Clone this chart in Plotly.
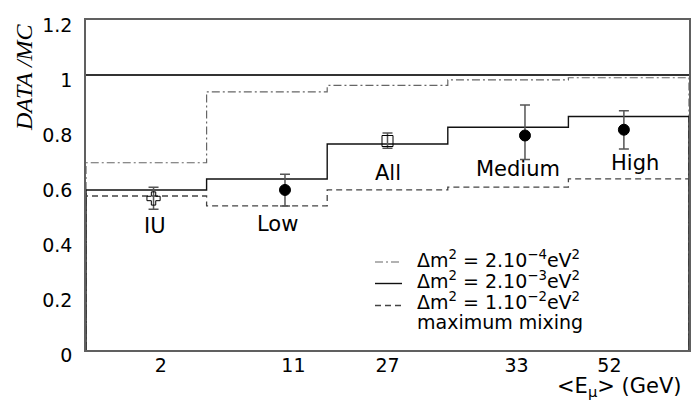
import plotly.graph_objects as go

# ---- data ----
bin_edges = [0, 1, 2, 3, 4, 5]
hist_dm2_2e4 = [0.681, 0.939, 0.962, 0.982, 0.990]   # dash-dot
hist_dm2_2e3 = [0.582, 0.622, 0.749, 0.810, 0.849]   # solid
hist_dm2_1e2 = [0.560, 0.524, 0.582, 0.592, 0.622]   # dashed
no_osc_level = 1.0

sample_names = ["IU", "Low", "All", "Medium", "High"]
sample_x = [0.56, 1.65, 2.50, 3.64, 4.46]
sample_y = [0.551, 0.582, 0.760, 0.780, 0.801]
sample_err_plus = [0.041, 0.057, 0.029, 0.111, 0.069]
sample_err_minus = [0.039, 0.058, 0.026, 0.087, 0.070]
sample_symbols = ["cross-open", "circle", "square-open", "circle", "circle"]

label_x = [0.57, 1.59, 2.50, 3.58, 4.55]
label_y = [0.450, 0.460, 0.645, 0.660, 0.679]

energy_tick_pos = [0.62, 1.72, 2.50, 3.57, 4.34]
energy_tick_text = ["2", "11", "27", "33", "52"]

legend_names = [
    "Δm<sup>2</sup> = 2.10<sup>−4</sup>eV<sup>2</sup>",
    "Δm<sup>2</sup> = 2.10<sup>−3</sup>eV<sup>2</sup>",
    "Δm<sup>2</sup> = 1.10<sup>−2</sup>eV<sup>2</sup>",
    "maximum mixing",
]

FONT = "DejaVu Sans"

# plot-area geometry (pixels) used to place decorations in paper coords
W, H = 698, 405
ML, MR, MT, MB = 86, 9, 20, 55
PW, PH = W - ML - MR, H - MT - MB


def px_x(px):
    return (px - ML) / PW


def px_y(py):
    return (H - MB - py) / PH


def hist_outline(edges, vals):
    xs = [edges[0]] + list(edges[:-1]) + [edges[-1], edges[-1]]
    ys = [0] + list(vals) + [vals[-1], 0]
    return xs, ys


fig = go.Figure()

# no-oscillation reference
fig.add_trace(go.Scatter(x=[bin_edges[0], bin_edges[-1]], y=[no_osc_level, no_osc_level],
                         mode="lines", line=dict(color="#333333", width=2.2),
                         showlegend=False, hoverinfo="skip"))

line_styles = [
    dict(color="#666666", width=1.2, dash="8px,3px,2px,3px"),
    dict(color="#111111", width=1.4),
    dict(color="#444444", width=1.3, dash="6px,4px"),
]
for vals, ln, name in zip([hist_dm2_2e4, hist_dm2_2e3, hist_dm2_1e2], line_styles, legend_names[:3]):
    xs, ys = hist_outline(bin_edges, vals)
    fig.add_trace(go.Scatter(x=xs, y=ys, mode="lines", line_shape="hv", line=ln,
                             name=name, showlegend=False))

# data points
for i in range(len(sample_names)):
    fig.add_trace(go.Scatter(
        x=[sample_x[i]], y=[sample_y[i]], mode="markers",
        marker=dict(symbol=sample_symbols[i], size=11,
                    color="black", line=dict(color="black", width=1)),
        error_y=dict(type="data", symmetric=False, array=[sample_err_plus[i]],
                     arrayminus=[sample_err_minus[i]], color="#555555", thickness=1.5, width=5),
        showlegend=False, name=sample_names[i]))

for name, lx, ly in zip(sample_names, label_x, label_y):
    fig.add_annotation(x=lx, y=ly, text=name, showarrow=False, xanchor="center", yanchor="middle",
                       font=dict(family=FONT, size=21, color="black"))

# legend (drawn by hand to match the original layout)
legend_line_y = [262, 283.5, 305.5]
legend_text_y = [259, 280, 301, 322]
for ln, ly in zip(line_styles, legend_line_y):
    fig.add_shape(type="line", xref="paper", yref="paper",
                  x0=px_x(375), x1=px_x(402), y0=px_y(ly), y1=px_y(ly),
                  line=dict(color=ln["color"], width=ln["width"], dash=ln.get("dash", "solid")))
for name, ty in zip(legend_names, legend_text_y):
    fig.add_annotation(xref="paper", yref="paper", x=px_x(415), y=px_y(ty), text=name,
                       showarrow=False, xanchor="left", yanchor="middle",
                       font=dict(family=FONT, size=19, color="black"))

# axis titles
fig.add_annotation(xref="paper", yref="paper", x=px_x(24), y=px_y(77), text="<i>DATA /MC</i>",
                   textangle=-90, showarrow=False, xanchor="center", yanchor="middle",
                   font=dict(family="Liberation Serif", size=24, color="black"))
fig.add_annotation(xref="paper", yref="paper", x=px_x(619), y=px_y(387),
                   text="&lt;E<sub>μ</sub>&gt; (GeV)", showarrow=False,
                   xanchor="center", yanchor="middle",
                   font=dict(family=FONT, size=21, color="black"))

fig.update_layout(
    width=W, height=H,
    margin=dict(l=ML, r=MR, t=MT, b=MB, autoexpand=False),
    paper_bgcolor="white", plot_bgcolor="white",
    font=dict(family=FONT, size=19, color="black"),
    showlegend=False,
)
fig.update_xaxes(range=[0, 5], tickvals=energy_tick_pos, ticktext=energy_tick_text,
                 showgrid=False, zeroline=False, showline=True, mirror=True,
                 linecolor="#606060", linewidth=1.5, ticks="", automargin=False,
                 ticklabelstandoff=-3)
fig.update_yaxes(range=[0, 1.2], dtick=0.2, tick0=0, showgrid=False, zeroline=False,
                 showline=True, mirror=True, linecolor="#606060", linewidth=1.5, ticks="",
                 ticklabelshift=5, ticklabelstandoff=8, automargin=False)

fig.write_html("out.html", config={"displayModeBar": False},
               post_script="document.body.style.margin='0';")
